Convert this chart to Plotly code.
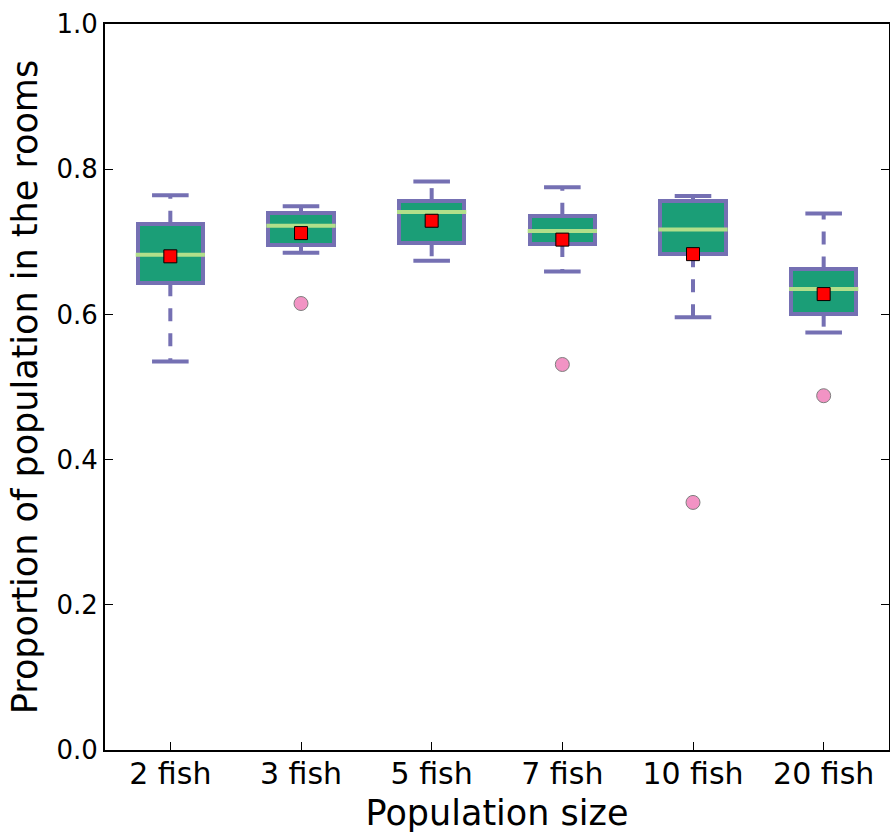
import plotly.graph_objects as go

categories = ["2 fish", "3 fish", "5 fish", "7 fish", "10 fish", "20 fish"]
whisker_low = [0.535, 0.685, 0.674, 0.659, 0.596, 0.575]
q1 = [0.643, 0.695, 0.698, 0.697, 0.683, 0.601]
median = [0.682, 0.722, 0.741, 0.715, 0.717, 0.635]
q3 = [0.725, 0.740, 0.756, 0.736, 0.756, 0.662]
whisker_high = [0.764, 0.749, 0.783, 0.775, 0.763, 0.739]
means = [0.680, 0.712, 0.729, 0.703, 0.683, 0.628]
outlier_x = ["3 fish", "7 fish", "10 fish", "20 fish"]
outlier_y = [0.615, 0.531, 0.341, 0.488]

y_ticks = [0.0, 0.2, 0.4, 0.6, 0.8, 1.0]

PURPLE = "#7570b3"
GREEN = "#1b9e77"
LIGHT = "#b2df8a"

pos = list(range(len(categories)))
box_w = 0.5
cap_w = 0.14
med_w = 0.265

fig = go.Figure()

# boxes
fig.add_trace(go.Bar(
    x=pos, base=q1, y=[b - a for a, b in zip(q1, q3)], width=box_w,
    marker=dict(color=GREEN, line=dict(color=PURPLE, width=4)),
    hoverinfo="skip", showlegend=False))

# whiskers (dashed), drawn outward from the box edge
wx, wy = [], []
for i in pos:
    wx += [i, i, None, i, i, None]
    wy += [q3[i], whisker_high[i], None, q1[i], whisker_low[i], None]
fig.add_trace(go.Scatter(x=wx, y=wy, mode="lines",
                         line=dict(color=PURPLE, width=4, dash="13px,12px"),
                         hoverinfo="skip", showlegend=False))

# caps
cx, cy = [], []
for i in pos:
    cx += [i - cap_w, i + cap_w, None, i - cap_w, i + cap_w, None]
    cy += [whisker_high[i], whisker_high[i], None, whisker_low[i], whisker_low[i], None]
fig.add_trace(go.Scatter(x=cx, y=cy, mode="lines",
                         line=dict(color=PURPLE, width=4),
                         hoverinfo="skip", showlegend=False))

# medians
mx, my = [], []
for i in pos:
    mx += [i - med_w, i + med_w, None]
    my += [median[i], median[i], None]
fig.add_trace(go.Scatter(x=mx, y=my, mode="lines",
                         line=dict(color=LIGHT, width=4),
                         hoverinfo="skip", showlegend=False))

# outliers
fig.add_trace(go.Scatter(
    x=[categories.index(c) for c in outlier_x], y=outlier_y, mode="markers",
    marker=dict(symbol="circle", size=14, color="#e7298a", opacity=0.5,
                line=dict(color="black", width=1)),
    hoverinfo="skip", showlegend=False))

# means
fig.add_trace(go.Scatter(
    x=pos, y=means, mode="markers",
    marker=dict(symbol="square", size=13, color="red",
                line=dict(color="black", width=1)),
    hoverinfo="skip", showlegend=False))

FONT = "DejaVu Sans"
fig.update_layout(
    width=890, height=834,
    margin=dict(l=105, r=1, t=24, b=84),
    paper_bgcolor="white", plot_bgcolor="white",
    font=dict(family=FONT, color="black", size=26),
    bargap=0,
    xaxis=dict(
        range=[-0.5, 5.5], tickmode="array", tickvals=pos, ticktext=categories,
        ticks="inside", ticklen=8, tickwidth=1, tickcolor="black",
        showline=True, linecolor="black", linewidth=2, mirror=True,
        showgrid=False, zeroline=False, automargin=False,
        ticklabelstandoff=-4,
        tickfont=dict(size=30, family=FONT),
        title=dict(text="Population size", font=dict(size=35, family=FONT), standoff=10),
    ),
    yaxis=dict(
        range=[0, 1.0], tickmode="array", tickvals=y_ticks,
        ticktext=[f"{v:.1f}" for v in y_ticks],
        ticks="inside", ticklen=8, tickwidth=1, tickcolor="black",
        showline=True, linecolor="black", linewidth=2, mirror="ticks",
        showgrid=False, zeroline=False, automargin=False,
        tickfont=dict(size=26, family=FONT),
        title=dict(text="Proportion of population in the rooms",
                   font=dict(size=35, family=FONT), standoff=8),
    ),
)

fig.write_html(
    "out.html",
    config={"displayModeBar": False},
    post_script="document.body.style.margin='0';document.body.style.overflow='hidden';",
)
